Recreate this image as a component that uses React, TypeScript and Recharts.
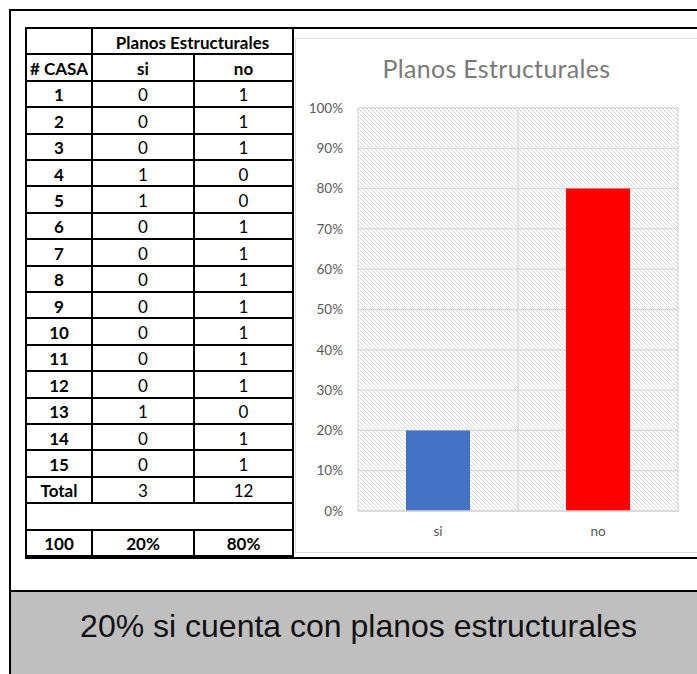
import React from 'react';
import { BarChart, Bar, XAxis, YAxis, CartesianGrid, Cell } from 'recharts';

// ---- Data ----
const casaLabels = ['1', '2', '3', '4', '5', '6', '7', '8', '9', '10', '11', '12', '13', '14', '15'];
const siColumn = [0, 0, 0, 1, 1, 0, 0, 0, 0, 0, 0, 0, 1, 0, 0];
const noColumn = [1, 1, 1, 0, 0, 1, 1, 1, 1, 1, 1, 1, 0, 1, 1];
const totalRow = ['Total', '3', '12'];
const percentRow = ['100', '20%', '80%'];
const tableTitle = 'Planos Estructurales';
const headerRow = ['# CASA', 'si', 'no'];

const categories = ['si', 'no'];
const percentValues = [0.2, 0.8];
const barColors = ['#4472C4', '#FF0000'];
const yTicks = [0, 0.1, 0.2, 0.3, 0.4, 0.5, 0.6, 0.7, 0.8, 0.9, 1];
const chartTitle = 'Planos Estructurales';
const conclusion = '20% si cuenta con planos estructurales';

const chartData = categories.map((c, i) => ({ name: c, value: percentValues[i] }));

// ---- Layout constants ----
const TABLE_TOP = 27;
const ROW_H = 26.4;
const COLS = [25, 91, 193, 292];
const LINE = 2;
const FONT = 'Lato, Carlito, Calibri, sans-serif';

function rowTop(i: number) {
  return TABLE_TOP + i * ROW_H;
}

function Cell_({ row, col, span, text, bold }: { row: number; col: number; span?: number; text: string; bold?: boolean }) {
  const left = COLS[col] + LINE;
  const right = COLS[col + (span || 1)];
  return (
    <div
      style={{
        position: 'absolute',
        left,
        width: right - left,
        top: rowTop(row) + 2.5,
        height: ROW_H,
        lineHeight: `${ROW_H}px`,
        textAlign: 'center',
        fontFamily: FONT,
        fontSize: 17,
        fontWeight: bold ? 700 : 400,
        color: '#000',
        whiteSpace: 'nowrap',
      }}
    >
      {text}
    </div>
  );
}

function Table() {
  const els: React.ReactNode[] = [];
  for (let i = 0; i <= 20; i++) {
    els.push(
      <div key={'h' + i} style={{ position: 'absolute', left: COLS[0], width: COLS[3] + LINE - COLS[0], top: rowTop(i), height: LINE, background: '#000' }} />
    );
  }
  [COLS[0], COLS[3]].forEach((x, k) => {
    els.push(
      <div key={'vo' + k} style={{ position: 'absolute', left: x, width: LINE, top: rowTop(0), height: rowTop(20) - rowTop(0) + LINE, background: '#000' }} />
    );
  });
  const seg = (x: number, r0: number, r1: number, key: string) =>
    els.push(
      <div key={key} style={{ position: 'absolute', left: x, width: LINE, top: rowTop(r0), height: rowTop(r1) - rowTop(r0) + LINE, background: '#000' }} />
    );
  seg(COLS[1], 0, 18, 'v1a');
  seg(COLS[1], 19, 20, 'v1b');
  seg(COLS[2], 1, 18, 'v2a');
  seg(COLS[2], 19, 20, 'v2b');

  els.push(<Cell_ key="t0" row={0} col={1} span={2} text={tableTitle} bold />);
  headerRow.forEach((t, c) => els.push(<Cell_ key={'hd' + c} row={1} col={c} text={t} bold />));
  casaLabels.forEach((lab, i) => {
    els.push(<Cell_ key={'c0' + i} row={2 + i} col={0} text={lab} bold />);
    els.push(<Cell_ key={'c1' + i} row={2 + i} col={1} text={String(siColumn[i])} />);
    els.push(<Cell_ key={'c2' + i} row={2 + i} col={2} text={String(noColumn[i])} />);
  });
  totalRow.forEach((t, c) => els.push(<Cell_ key={'tt' + c} row={17} col={c} text={t} bold={c === 0} />));
  percentRow.forEach((t, c) => els.push(<Cell_ key={'pc' + c} row={19} col={c} text={t} bold />));
  return <>{els}</>;
}

const pctFmt = (v: number) => `${Math.round(v * 100)}%`;

export default function App() {
  return (
    <div style={{ position: 'absolute', left: 0, top: 0, width: 697, height: 674, overflow: 'hidden', background: '#fff' }}>
      <div style={{ position: 'absolute', left: 9, top: 9, width: 800, height: 800, borderLeft: '2px solid #000', borderTop: '2px solid #000' }} />
      <div style={{ position: 'absolute', left: 25, top: 27, width: 800, height: 528, borderTop: '2px solid #000', borderBottom: '2px solid #000', borderLeft: '2px solid #000' }} />
      <Table />
      <div style={{ position: 'absolute', left: 295, top: 38, width: 600, height: 513, border: '1px solid #d9d9d9', background: '#fff' }} />
      <div
        style={{
          position: 'absolute',
          left: 296,
          width: 401,
          top: 56,
          lineHeight: '25px',
          fontSize: 25,
          letterSpacing: 0.3,
          textAlign: 'center',
          fontFamily: FONT,
          color: '#7a7a7a',
          whiteSpace: 'nowrap',
        }}
      >
        {chartTitle}
      </div>
      <div style={{ position: 'absolute', left: 296, top: 38 }}>
        <BarChart width={401} height={513} data={chartData} margin={{ top: 70, right: 19, bottom: 0, left: 0 }} barCategoryGap="30%">
          <defs>
            <pattern id="hatch" width="4" height="4" patternUnits="userSpaceOnUse">
              <path d="M-1,-1 L5,5 M-1,3 L1,5 M3,-1 L5,1" stroke="#d6d6d6" strokeWidth="1" />
            </pattern>
          </defs>
          <CartesianGrid
            stroke="#d9d9d9"
            strokeWidth={1.3}
            fill="url(#hatch)"
            fillOpacity={1}
            verticalCoordinatesGenerator={({ offset }: any) => [offset.left, offset.left + offset.width / 2, offset.left + offset.width]}
          />
          <XAxis
            dataKey="name"
            height={40}
            axisLine={{ stroke: '#d9d9d9', strokeWidth: 1.3 }}
            tickLine={false}
            tickSize={5}
            tickMargin={10}
            tick={{ fill: '#595959', fontSize: 13.5, fontFamily: FONT }}
          />
          <YAxis
            width={62}
            domain={[0, 1]}
            ticks={yTicks}
            tickFormatter={pctFmt}
            axisLine={false}
            tickLine={false}
            tickSize={5}
            tickMargin={10}
            interval={0}
            tick={{ fill: '#595959', fontSize: 13.5, fontFamily: FONT }}
          />
          <Bar dataKey="value" isAnimationActive={false}>
            {chartData.map((d, i) => (
              <Cell key={d.name} fill={barColors[i]} />
            ))}
          </Bar>
        </BarChart>
      </div>
      <div style={{ position: 'absolute', left: 9, top: 590, width: 800, height: 200, borderTop: '2px solid #000', borderLeft: '2px solid #000', background: '#bfbfbf' }} />
      <div
        style={{
          position: 'absolute',
          left: 0,
          width: 717,
          top: 610,
          lineHeight: '32px',
          fontSize: 32,
          textAlign: 'center',
          fontFamily: '"Liberation Sans", Arial, sans-serif',
          color: '#111',
          whiteSpace: 'nowrap',
        }}
      >
        {conclusion}
      </div>
    </div>
  );
}
